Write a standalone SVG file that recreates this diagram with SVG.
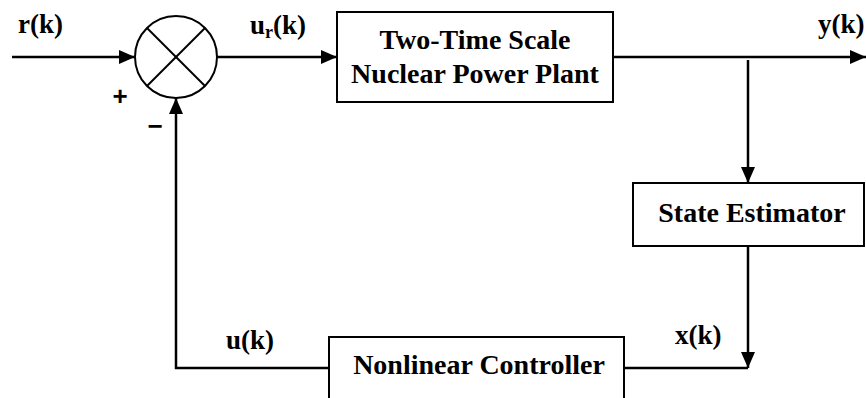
<svg xmlns="http://www.w3.org/2000/svg" width="866" height="398" viewBox="0 0 866 398">
<style>
.t{font-family:'Liberation Serif','Times New Roman',serif;font-weight:bold;fill:#000;font-size:28px}
.l{font-size:27px}
.box{fill:#fff;stroke:#000;stroke-width:2}
.ln{fill:none;stroke:#000;stroke-width:2.5}
.sg{font-family:'Liberation Sans',Arial,sans-serif;font-weight:bold;font-size:26px}
</style>
<defs>
<marker id="a" viewBox="0 0 16 14" refX="16" refY="7" markerWidth="16" markerHeight="14" markerUnits="userSpaceOnUse" orient="auto">
<path d="M0,0 L16,7 L0,14 z" fill="#000"/>
</marker>
</defs>
<g id="connectors">
<line class="ln" x1="12" y1="57" x2="135" y2="57" marker-end="url(#a)"/>
<line class="ln" x1="217" y1="57" x2="337" y2="57" marker-end="url(#a)"/>
<line class="ln" x1="613" y1="57" x2="866" y2="57" marker-end="url(#a)"/>
<line class="ln" x1="748" y1="60" x2="748" y2="183" marker-end="url(#a)"/>
<line class="ln" x1="748" y1="246" x2="748" y2="368" marker-end="url(#a)"/>
<polyline class="ln" points="748,368 624,368"/>
<polyline class="ln" points="330,368 176,368 176,98" marker-end="url(#a)"/>
</g>
<g id="summer">
<circle cx="176" cy="57" r="41" fill="#fff" stroke="#000" stroke-width="2"/>
<line x1="147" y1="28" x2="205" y2="86" stroke="#000" stroke-width="2"/>
<line x1="205" y1="28" x2="147" y2="86" stroke="#000" stroke-width="2"/>
<text class="sg" x="120" y="105" text-anchor="middle">+</text>
<text class="sg" x="155" y="135" text-anchor="middle">−</text>
</g>
<g id="plant">
<rect class="box" x="337" y="12" width="276" height="90"/>
<text class="t" x="475" y="49" text-anchor="middle">Two-Time Scale</text>
<text class="t" x="475" y="83" text-anchor="middle">Nuclear Power Plant</text>
</g>
<g id="estimator">
<rect class="box" x="633" y="183" width="231" height="63"/>
<text class="t" x="752" y="222" text-anchor="middle">State Estimator</text>
</g>
<g id="controller">
<rect class="box" x="329" y="337" width="295" height="70"/>
<text class="t" x="479" y="374" text-anchor="middle">Nonlinear Controller</text>
</g>
<g id="labels">
<text class="t l" x="18" y="33">r(k)</text>
<text class="t l" x="250" y="34">u<tspan font-size="18" dy="4">r</tspan><tspan dy="-4">(k)</tspan></text>
<text class="t l" x="818" y="33">y(k)</text>
<text class="t l" x="226" y="349">u(k)</text>
<text class="t l" x="675" y="344">x(k)</text>
</g>
</svg>
